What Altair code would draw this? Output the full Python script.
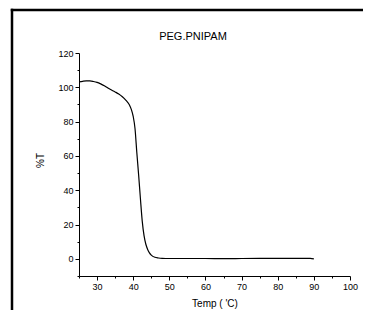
import altair as alt
import pandas as pd

temp = [25, 26, 27, 28, 29, 30, 31, 32, 33, 34, 35, 36, 37, 38, 39, 39.5, 40, 40.5,
        41, 41.5, 42, 42.5, 43, 43.5, 44, 44.5, 45, 46, 47, 48, 50, 55, 60, 65, 70,
        75, 80, 85, 89, 90]
trans = [103.2, 103.5, 103.7, 103.7, 103.4, 102.9, 102.0, 100.9, 99.6, 98.4, 97.3,
         96.1, 94.5, 92.4, 89.5, 87.0, 83.0, 76.0, 62.0, 49.0, 35.0, 22.0, 13.5, 8.5,
         5.5, 3.5, 2.2, 0.9, 0.5, 0.3, 0.2, 0.2, 0.2, 0.1, 0.2, 0.3, 0.3, 0.3, 0.3, 0.0]

x_ticks = list(range(25, 101, 5))
y_ticks = list(range(-10, 121, 10))
title_text = ["PEG.PNIPAM"]

df = pd.DataFrame({"temp": temp, "trans": trans})
FONT = "Liberation Sans"
W, H = 271, 223
PAD = {"left": 71, "top": 45, "right": 13, "bottom": 34}

line = alt.Chart(df).mark_line(color="black", strokeWidth=1.2, interpolate="monotone").encode(
    x=alt.X("temp:Q", scale=alt.Scale(domain=[25, 100], nice=False, zero=False),
            axis=alt.Axis(values=x_ticks, title="Temp ( 'C)", grid=False,
                          labelExpr="datum.value % 10 == 0 ? datum.label : ''",
                          tickSize={"condition": {"test": "datum.value % 10 != 0", "value": 2}, "value": 4},
                          labelPadding=2, titleY=27, titleBaseline="middle",
                          labelFlush=False)),
    y=alt.Y("trans:Q", scale=alt.Scale(domain=[-10, 120], nice=False, zero=False),
            axis=alt.Axis(values=y_ticks, title="%T", grid=False,
                          labelExpr="datum.value % 20 == 0 && datum.value >= 0 ? datum.label : ''",
                          tickSize={"condition": {"test": "datum.value % 20 != 0", "value": 2}, "value": 4},
                          labelPadding=2, titleX=-39, titleY=107, titleBaseline="middle",
                          titleAngle=-90, labelFlush=False)),
)

one = pd.DataFrame({"a": [0]})
frame_left = alt.Chart(one).mark_rule(color="black", strokeWidth=2.5).encode(
    x=alt.value(-67), y=alt.value(-44.25), y2=alt.value(H + PAD["bottom"]))
frame_top = alt.Chart(one).mark_rule(color="black", strokeWidth=2.5).encode(
    x=alt.value(-68.25), x2=alt.value(W + PAD["right"]), y=alt.value(-43))

title = alt.Chart(pd.DataFrame({"t": title_text})).mark_text(
    font=FONT, fontSize=11, color="black", align="center", baseline="middle"
).encode(text="t:N", x=alt.value(114), y=alt.value(-16))

chart = alt.layer(frame_left, frame_top, line, title).properties(
    width=W, height=H,
    autosize=alt.AutoSizeParams(type="none"),
    padding=PAD,
    background="white",
).configure_view(stroke=None).configure_axis(
    labelFont=FONT, titleFont=FONT, labelFontSize=9, titleFontSize=10,
    titleFontWeight="normal", labelColor="black", titleColor="black",
    domainColor="black", tickColor="black", domainWidth=1, tickWidth=1,
)

chart.save("out.html", embed_options={"renderer": "svg", "actions": False})
